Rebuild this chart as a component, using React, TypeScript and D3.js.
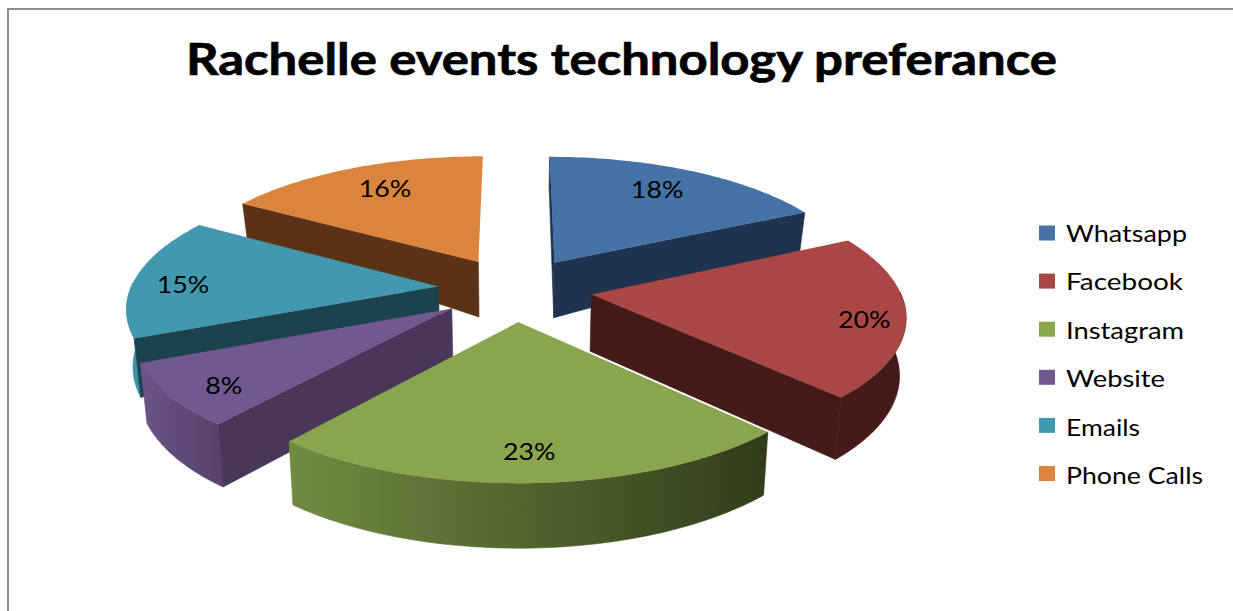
import React from "react";
import * as d3 from "d3";

const title = "Rachelle events technology preferance";
const categories = ["Whatsapp", "Facebook", "Instagram", "Website", "Emails", "Phone Calls"];
const shares = [17.7, 20, 23.3, 7.7, 15, 16.3];
const topColors = ["#4572a7", "#aa4643", "#89a54e", "#71588f", "#4198af", "#db843d"];
const cutColors = ["#1f334f", "#451b19", "#343e1c", "#4a3659", "#1b424d", "#5a3317"];
const rimLeft = ["#1f334f", "#451b19", "#708c41", "#6c5488", "#3f93a9", "#5a3317"];
const rimRight = ["#1f334f", "#451b19", "#323c1a", "#57426d", "#357d90", "#5a3317"];
const labelRadius = [0.764, 0.871, 0.825, 0.844, 0.835, 0.759];
const labelAngleDeg = [30.4, 102.3, 178, 230.7, 271.4, 332.3];
const legendWidths = [121, 117, 118, 99, 74, 137];

const W = 1233, H = 611;
const FONT = "Lato, 'Open Sans', sans-serif";
const cx = 515, cy = 289, R = 308, T = 127.8, P = 0.142, EXPLODE = 0.25;
const SHRINK = 0.983;
const wallDepth = d3.scaleLinear().domain([157, 212, 260, 400, 483]).range([30, 38, 55, 62, 65]);

type Pt = [number, number];
const project = (x: number, y: number): Pt => {
  const k = 1 / (1 - P * y);
  return [cx + R * x * k, cy + T * y * k];
};
const lower = ([x, y]: Pt): Pt => [cx + (x - cx) * SHRINK, y + wallDepth(y)];
const line = d3.line<Pt>().curve(d3.curveLinear);

const arcs = d3.pie<number>().sort(null).value((d) => d)(shares);

const slices = arcs.map((a, i) => {
  const mid = (a.startAngle + a.endAngle) / 2;
  const ox = EXPLODE * Math.sin(mid), oy = -EXPLODE * Math.cos(mid);
  const at = (ang: number, r: number): Pt => project(ox + r * Math.sin(ang), oy - r * Math.cos(ang));
  const apex = at(0, 0);
  const angles = d3.range(0, 61).map((s) => a.startAngle + ((a.endAngle - a.startAngle) * s) / 60);
  const rim: Pt[] = angles.map((t) => at(t, 1));
  const wall = (p: Pt) => line([apex, p, lower(p), lower(apex)])! + "Z";
  const cuts: string[] = [];
  if (-Math.sin(a.startAngle) > -0.01) cuts.push(wall(rim[0]));
  if (Math.sin(a.endAngle) > 0.01) cuts.push(wall(rim[60]));
  const front = rim.filter((_, j) => -Math.cos(angles[j]) > -0.03);
  const xs = rim.map((p) => p[0]);
  return {
    i,
    oy,
    top: line([apex, ...rim])! + "Z",
    cuts,
    outer: front.length > 1 ? line([...front, ...front.map(lower).reverse()])! + "Z" : null,
    x1: d3.min(xs)!,
    x2: d3.max(xs)!,
    label: at((labelAngleDeg[i] * Math.PI) / 180, labelRadius[i]),
    text: `${Math.round(shares[i])}%`,
  };
});
const drawOrder = d3.sort(slices, (s) => s.oy);

const swatchTop = d3.scalePoint<string>().domain(categories).range([225.5, 466]);
const legendBase = d3.scalePoint<string>().domain(categories).range([242, 484]);

export default function App() {
  return (
    <svg width={W} height={H} viewBox={`0 0 ${W} ${H}`} style={{ position: "absolute", left: 0, top: 0, background: "#fff" }}>
      <defs>
        {slices.map((s) => (
          <linearGradient key={s.i} id={`rim${s.i}`} gradientUnits="userSpaceOnUse" x1={s.x1} x2={s.x2} y1={0} y2={0}>
            <stop offset="0" stopColor={rimLeft[s.i]} />
            <stop offset="1" stopColor={rimRight[s.i]} />
          </linearGradient>
        ))}
      </defs>
      <path d={`M8,${H}V9H${W}`} fill="none" stroke="#8e8e8e" strokeWidth={2} />
      <text x={186} y={75} fontFamily={FONT} fontWeight={700} fontSize={43} fill="#000" stroke="#000" strokeWidth={0.7} textLength={871} lengthAdjust="spacingAndGlyphs">
        {title}
      </text>
      {drawOrder.map((s) => (
        <g key={s.i}>
          {s.outer && <path d={s.outer} fill={`url(#rim${s.i})`} stroke={`url(#rim${s.i})`} strokeWidth={0.6} />}
          {s.cuts.map((d, j) => (
            <path key={j} d={d} fill={cutColors[s.i]} stroke={cutColors[s.i]} strokeWidth={0.6} />
          ))}
          <path d={s.top} fill={topColors[s.i]} />
        </g>
      ))}
      {slices.map((s) => (
        <text key={s.i} transform={`translate(${s.label[0]},${s.label[1] + 8.5}) scale(1.14,1)`} textAnchor="middle" fontFamily={FONT} fontSize={23.5} fill="#000">
          {s.text}
        </text>
      ))}
      {categories.map((c, i) => (
        <g key={c}>
          <rect x={1039} y={swatchTop(c)!} width={16} height={15} fill={topColors[i]} />
          <text x={1066} y={legendBase(c)!} fontFamily={FONT} fontSize={24} fill="#000" textLength={legendWidths[i]} lengthAdjust="spacingAndGlyphs">
            {c}
          </text>
        </g>
      ))}
    </svg>
  );
}
